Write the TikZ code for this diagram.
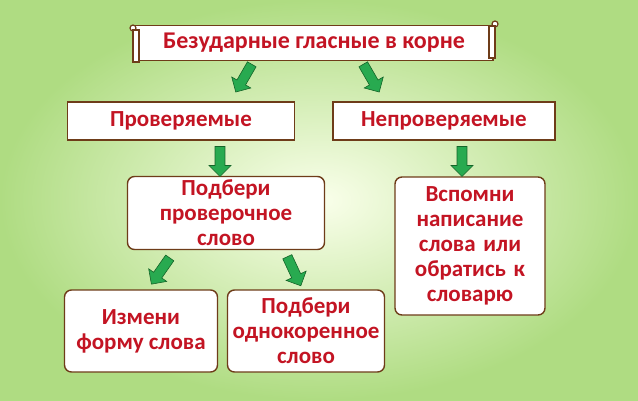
\documentclass[tikz,border=0pt]{standalone}
\usepackage{fontspec}
\setmainfont{Carlito}
\usetikzlibrary{shapes.arrows}
\definecolor{txt}{RGB}{195,20,35}
\definecolor{brd}{RGB}{110,60,25}
\definecolor{arr}{RGB}{40,170,80}
\definecolor{arrd}{RGB}{20,100,40}
\definecolor{bg1}{RGB}{250,255,235}
\definecolor{bg2}{RGB}{175,220,130}
\tikzset{
 box/.style={draw=brd,line width=1.4pt,fill=white,text=txt,font=\bfseries\fontsize{23}{25}\selectfont,align=center,inner sep=0pt},
 rbox/.style={box,rounded corners=7pt},
 garrow/.style={single arrow,draw=arrd,fill=arr,line width=0.6pt,minimum height=32pt,minimum width=22pt,single arrow head extend=4pt,inner sep=3pt}
}
\begin{document}
\begin{tikzpicture}[x=1pt,y=-1pt]
\shade[inner color=bg1,outer color=bg2] (0,0) rectangle (638,400);
\useasboundingbox (0,0) rectangle (638,400);
% title scroll
\node[box,minimum width=358pt,minimum height=35pt,font=\bfseries\fontsize{24}{26}\selectfont] (t) at (314,43) {Безударные гласные в корне};
\draw[brd,fill=white,line width=1.2pt] (133,28) circle (3pt);
\draw[brd,fill=white,line width=1.2pt] (133,30) rectangle (139,62);
\draw[brd,fill=white,line width=1.2pt] (495,24) circle (3pt);
\draw[brd,fill=white,line width=1.2pt] (489,26) rectangle (495,58);
\node[box,minimum width=227pt,minimum height=38pt] (p) at (181,121) {Проверяемые};
\node[box,minimum width=222pt,minimum height=38pt] (n) at (444,121) {Непроверяемые};
\node[rbox,minimum width=197pt,minimum height=73pt] (pp) at (226,213) {Подбери\\проверочное\\слово};
\node[rbox,minimum width=150pt,minimum height=138pt,text width=146pt] (v) at (470,246) {Вспомни\\написание\\слова или\\обратись к\\словарю};
\node[rbox,minimum width=153pt,minimum height=82pt] (i) at (141,331) {Измени\\форму слова};
\node[rbox,minimum width=157pt,minimum height=82pt] (o) at (306,331) {Подбери\\однокоренное\\слово};
% arrows
\node[garrow,rotate=-120] (a1) at (245,76) {};
\node[garrow,rotate=-60] (a2) at (370,76) {};
\node[garrow,rotate=-90,minimum height=30pt] (a3) at (220,159) {};
\node[garrow,rotate=-90,minimum height=30pt] (a4) at (462,159) {};
\node[garrow,rotate=-125] (a5) at (162,269) {};
\node[garrow,rotate=-65] (a6) at (293,269) {};
\end{tikzpicture}
\end{document}
